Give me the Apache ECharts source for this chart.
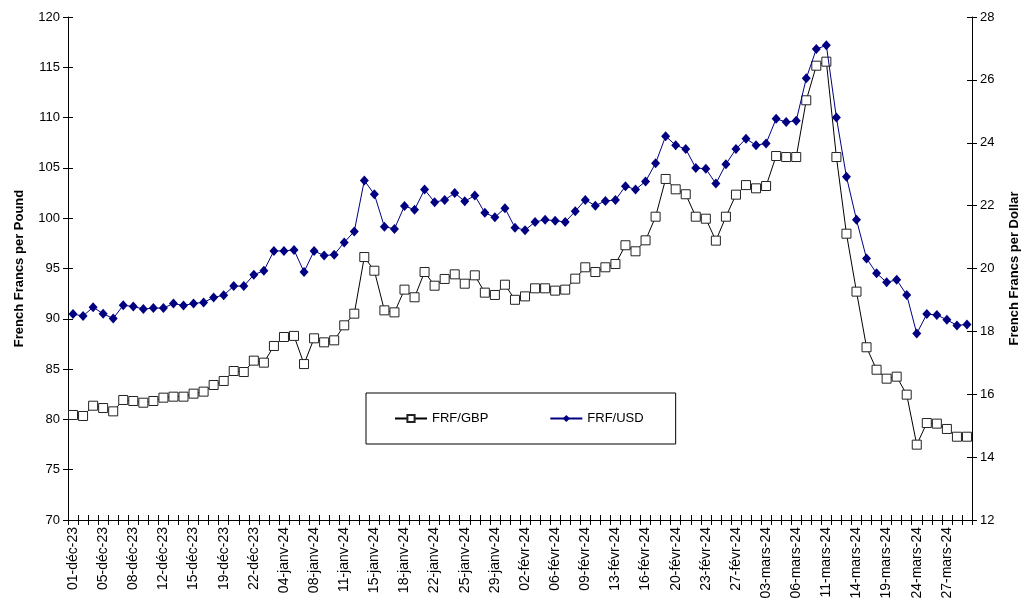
<!DOCTYPE html>
<html>
<head>
<meta charset="utf-8">
<script src="https://cdn.jsdelivr.net/npm/echarts@6/dist/echarts.min.js"></script>
<style>
  html, body { margin: 0; padding: 0; background: #fff; }
  #chart { width: 1025px; height: 610px; }
</style>
</head>
<body>
<div id="chart"></div>
<script>
// dates (only every 3rd is labelled on the axis)
const dates = [
  '01-déc-23', '02-déc-23', '04-déc-23', '05-déc-23', '06-déc-23', '07-déc-23',
  '08-déc-23', '09-déc-23', '11-déc-23', '12-déc-23', '13-déc-23', '14-déc-23',
  '15-déc-23', '16-déc-23', '18-déc-23', '19-déc-23', '20-déc-23', '21-déc-23',
  '22-déc-23', '27-déc-23', '29-déc-23', '04-janv-24', '05-janv-24', '06-janv-24',
  '08-janv-24', '09-janv-24', '10-janv-24', '11-janv-24', '12-janv-24', '13-janv-24',
  '15-janv-24', '16-janv-24', '17-janv-24', '18-janv-24', '19-janv-24', '20-janv-24',
  '22-janv-24', '23-janv-24', '24-janv-24', '25-janv-24', '26-janv-24', '27-janv-24',
  '29-janv-24', '30-janv-24', '31-janv-24', '02-févr-24', '03-févr-24', '05-févr-24',
  '06-févr-24', '07-févr-24', '08-févr-24', '09-févr-24', '10-févr-24', '12-févr-24',
  '13-févr-24', '14-févr-24', '15-févr-24', '16-févr-24', '17-févr-24', '19-févr-24',
  '20-févr-24', '21-févr-24', '22-févr-24', '23-févr-24', '24-févr-24', '26-févr-24',
  '27-févr-24', '28-févr-24', '29-févr-24', '03-mars-24', '04-mars-24', '05-mars-24',
  '06-mars-24', '07-mars-24', '08-mars-24', '11-mars-24', '12-mars-24', '13-mars-24',
  '14-mars-24', '15-mars-24', '18-mars-24', '19-mars-24', '20-mars-24', '21-mars-24',
  '24-mars-24', '25-mars-24', '26-mars-24', '27-mars-24', '28-mars-24', '29-mars-24'
]

// francs per pound (left axis)
const frfGbp = [
  80.44, 80.34, 81.36, 81.13, 80.80, 81.93, 81.83, 81.66, 81.83, 82.16,
  82.26, 82.26, 82.56, 82.76, 83.42, 83.82, 84.81, 84.71, 85.84, 85.64,
  87.30, 88.19, 88.30, 85.50, 88.06, 87.66, 87.86, 89.35, 90.51, 96.14,
  94.78, 90.84, 90.64, 92.90, 92.14, 94.65, 93.29, 93.96, 94.42, 93.49,
  94.32, 92.60, 92.37, 93.39, 91.89, 92.23, 93.03, 93.03, 92.80, 92.90,
  93.99, 95.12, 94.65, 95.12, 95.45, 97.31, 96.71, 97.80, 100.15, 103.90,
  102.87, 102.38, 100.15, 99.95, 97.77, 100.15, 102.34, 103.29, 102.97, 103.20,
  106.18, 106.08, 106.08, 111.72, 115.16, 115.56, 106.08, 98.46, 92.70, 87.17,
  84.94, 84.05, 84.25, 82.46, 77.49, 79.64, 79.58, 79.05, 78.28, 78.28
]

// francs per dollar (right axis)
const frfUsd = [
  18.55, 18.49, 18.77, 18.56, 18.41, 18.83, 18.79, 18.71, 18.74, 18.74,
  18.89, 18.82, 18.89, 18.92, 19.08, 19.15, 19.44, 19.44, 19.80, 19.93,
  20.56, 20.56, 20.59, 19.89, 20.56, 20.41, 20.44, 20.83, 21.18, 22.80,
  22.36, 21.33, 21.26, 21.99, 21.87, 22.51, 22.11, 22.18, 22.40, 22.14,
  22.32, 21.77, 21.63, 21.92, 21.30, 21.22, 21.48, 21.55, 21.52, 21.48,
  21.82, 22.18, 22.00, 22.15, 22.18, 22.62, 22.51, 22.77, 23.35, 24.21,
  23.92, 23.80, 23.20, 23.17, 22.70, 23.32, 23.80, 24.13, 23.92, 23.98,
  24.76, 24.66, 24.70, 26.05, 26.98, 27.10, 24.80, 22.92, 21.55, 20.32,
  19.85, 19.56, 19.64, 19.16, 17.93, 18.55, 18.52, 18.37, 18.19, 18.22
]

const font = 'Liberation Sans, Arial, sans-serif'
const chart = echarts.init(document.getElementById('chart'))

let lineAxis = { show: true, lineStyle: { color: '#000', width: 1 } }

chart.setOption({
  backgroundColor: '#fff',
  animation: false,
  textStyle: { fontFamily: font },
  grid: { left: 68, right: 53, top: 17, bottom: 90, outerBoundsMode: 'none', containLabel: false },
  legend: {
    left: 366,
    top: 393,
    orient: 'horizontal',
    backgroundColor: '#fff',
    borderColor: '#000',
    borderWidth: 1,
    borderRadius: 0,
    padding: [19, 32, 19, 28],
    itemGap: 61,
    itemWidth: 32,
    itemHeight: 9,
    textStyle: { fontFamily: font, fontSize: 13, color: '#000' },
    data: ['FRF/GBP', 'FRF/USD'],
  },
  xAxis: [
    {
      type: 'category',
      data: dates,
      boundaryGap: true,
      axisLine: lineAxis,
      axisTick: { show: true, interval: 0, length: 5, lineStyle: { color: '#000' } },
      axisLabel: {
        interval: 2,
        rotate: 90,
        margin: 7,
        fontSize: 14,
        color: '#000',
        fontFamily: font,
      },
      splitLine: { show: false },
    },
    {
      // inner half of the crossing ticks
      type: 'category',
      data: dates,
      position: 'bottom',
      boundaryGap: true,
      axisLine: { show: false },
      axisTick: { show: true, inside: true, interval: 0, length: 5, lineStyle: { color: '#000' } },
      axisLabel: { show: false },
      splitLine: { show: false },
    },
  ],
  yAxis: [
    {
      type: 'value',
      position: 'left',
      min: 70,
      max: 120,
      interval: 5,
      name: 'French Francs per Pound',
      nameLocation: 'middle',
      nameGap: 42,
      nameRotate: 90,
      nameTextStyle: { fontWeight: 'bold', fontSize: 13, color: '#000', fontFamily: font },
      axisLine: lineAxis,
      axisTick: { show: true, length: 5, lineStyle: { color: '#000' } },
      axisLabel: { fontSize: 13, color: '#000', margin: 8, fontFamily: font },
      splitLine: { show: false },
    },
    {
      type: 'value',
      position: 'right',
      min: 12,
      max: 28,
      interval: 2,
      name: 'French Francs per Dollar',
      nameLocation: 'middle',
      nameGap: 36,
      nameRotate: 90,
      nameTextStyle: { fontWeight: 'bold', fontSize: 13, color: '#000', fontFamily: font },
      axisLine: lineAxis,
      axisTick: { show: true, length: 5, lineStyle: { color: '#000' } },
      axisLabel: { fontSize: 13, color: '#000', margin: 8, fontFamily: font },
      splitLine: { show: false },
    },
    {
      type: 'value',
      position: 'left',
      min: 70,
      max: 120,
      interval: 5,
      axisLine: { show: false },
      axisTick: { show: true, inside: true, length: 5, lineStyle: { color: '#000' } },
      axisLabel: { show: false },
      splitLine: { show: false },
    },
    {
      type: 'value',
      position: 'right',
      min: 12,
      max: 28,
      interval: 2,
      axisLine: { show: false },
      axisTick: { show: true, inside: true, length: 5, lineStyle: { color: '#000' } },
      axisLabel: { show: false },
      splitLine: { show: false },
    },
  ],
  series: [
    {
      name: 'FRF/GBP',
      type: 'line',
      yAxisIndex: 0,
      data: frfGbp,
      symbol: 'rect',
      symbolSize: 9,
      showAllSymbol: true,
      lineStyle: { color: '#000', width: 1 },
      itemStyle: { color: '#fff', borderColor: '#222', borderWidth: 1 },
      z: 3,
    },
    {
      name: 'FRF/USD',
      type: 'line',
      yAxisIndex: 1,
      data: frfUsd,
      symbol: 'diamond',
      symbolSize: [9, 10],
      showAllSymbol: true,
      lineStyle: { color: '#000080', width: 1 },
      itemStyle: { color: '#000080', borderColor: '#000080', borderWidth: 0 },
      z: 4,
    },
  ],
})
</script>
</body>
</html>
